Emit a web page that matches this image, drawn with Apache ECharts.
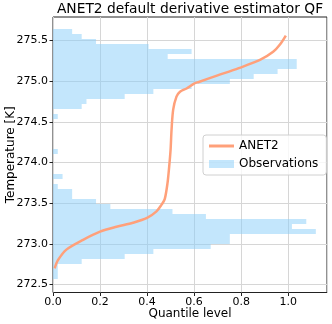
<!DOCTYPE html>
<html>
<head>
<meta charset="utf-8">
<script src="https://cdn.jsdelivr.net/npm/echarts@6/dist/echarts.min.js"></script>
<style>
  html, body { margin: 0; padding: 0; background: #fff; }
  #chart { width: 332px; height: 324px; }
</style>
</head>
<body>
<div id="chart"></div>
<script>
  // histogram of observations: 50 bins, counts listed from the lowest bin upwards
  const binStart = 272.565
  const binWidth = 0.0616
  const obsCounts = [1, 1, 1, 6, 15, 21, 33, 37, 37, 55, 50, 53, 32, 25, 12, 9, 4, 4, 1, 0,
    2, 0, 0, 0, 0, 1, 0, 0, 0, 0, 0, 0, 1, 0, 6, 7, 15, 21, 29, 37,
    42, 47, 51, 51, 24, 29, 20, 9, 6, 4]

  // ANET2 quantile function (quantile level, temperature)
  const qLevels = [0.007, 0.021, 0.057, 0.128, 0.20, 0.27, 0.34, 0.40, 0.44, 0.461, 0.475,
    0.487, 0.494, 0.50, 0.504, 0.511, 0.525, 0.54, 0.568, 0.60, 0.62, 0.70, 0.79, 0.88,
    0.936, 0.965, 0.99]
  const qTemps = [272.70, 272.80, 272.93, 273.05, 273.15, 273.21, 273.26, 273.32, 273.40,
    273.48, 273.55, 273.75, 273.95, 274.16, 274.40, 274.65, 274.81, 274.87, 274.91, 274.97,
    274.99, 275.07, 275.16, 275.26, 275.36, 275.45, 275.56]

  const yTicks = [272.5, 273.0, 273.5, 274.0, 274.5, 275.0, 275.5]

  const total = obsCounts.reduce((a, b) => a + b, 0)
  const histData = obsCounts.map((c, i) => [
    binStart + i * binWidth,
    binStart + (i + 1) * binWidth,
    c / (total * binWidth)
  ])
  const lineData = qLevels.map((q, i) => [q, qTemps[i]])

  const font = 'DejaVu Sans'
  const barColor = 'rgba(135,206,250,0.5)'
  const option = {
    animation: false,
    // title centred over the plot area, not the whole canvas
    graphic: [{
      type: 'text', x: 190, y: 2,
      style: {
        text: 'ANET2 default derivative estimator QF',
        font: '13.8px "DejaVu Sans"', fill: '#000',
        textAlign: 'center', textVerticalAlign: 'top'
      }
    }],
    legend: {
      orient: 'vertical',
      left: 203, top: 135,
      padding: [5, 8, 5, 6],
      itemGap: 6,
      itemWidth: 25, itemHeight: 8,
      backgroundColor: 'rgba(255,255,255,0.8)',
      borderColor: '#d0d0d0', borderWidth: 1, borderRadius: 3,
      textStyle: { fontFamily: font, fontSize: 12, color: '#000' },
      data: [
        { name: 'ANET2', icon: 'path://M0,0 L25,0 L25,3 L0,3 Z' },
        { name: 'Observations', icon: 'rect' }
      ]
    },
    grid: {
      left: 53, right: 5, top: 17, bottom: 31.5,
      outerBoundsMode: 'none',
      containLabel: false,
      show: true, borderColor: '#222', borderWidth: 1, backgroundColor: '#fff'
    },
    xAxis: {
      type: 'value', min: 0, max: 1.165, interval: 0.2,
      name: 'Quantile level', nameLocation: 'middle', nameGap: 15,
      nameMoveOverlap: false,
      nameTextStyle: { fontFamily: font, fontSize: 12, color: '#000' },
      axisLine: { show: false },
      axisTick: { show: true, length: 3.5, lineStyle: { color: '#222' } },
      axisLabel: {
        fontFamily: font, fontSize: 11, color: '#000', margin: 4,
        showMaxLabel: false,
        formatter: v => v.toFixed(1)
      },
      splitLine: { show: true, lineStyle: { color: '#d6d6d6', width: 1 } }
    },
    yAxis: {
      type: 'value', min: 272.403, max: 275.788,
      name: 'Temperature [K]', nameLocation: 'middle', nameGap: 36, nameRotate: 90,
      nameMoveOverlap: false,
      nameTextStyle: { fontFamily: font, fontSize: 12, color: '#000' },
      axisLine: { show: false },
      axisTick: { show: true, length: 3.5, customValues: yTicks, lineStyle: { color: '#222' } },
      axisLabel: {
        fontFamily: font, fontSize: 11, color: '#000', margin: 5,
        customValues: yTicks,
        formatter: v => v.toFixed(1)
      },
      splitLine: { show: true, lineStyle: { color: '#d6d6d6', width: 1 } }
    },
    series: [
      {
        name: 'Observations',
        type: 'custom',
        itemStyle: { color: barColor },
        encode: { x: 2, y: [0, 1] },
        data: histData,
        renderItem: function (params, api) {
          const lo = api.value(0), hi = api.value(1), w = api.value(2)
          if (w <= 0) return
          const p0 = api.coord([0, hi])
          const p1 = api.coord([w, lo])
          // snap bin edges to whole pixels so neighbouring bins meet without hairlines
          const yTop = Math.round(p0[1]), yBot = Math.round(p1[1])
          return {
            type: 'rect',
            shape: { x: p0[0], y: yTop, width: p1[0] - p0[0], height: yBot - yTop },
            style: { fill: barColor, stroke: null, lineWidth: 0 }
          }
        },
        z: 1
      },
      {
        name: 'ANET2',
        type: 'line',
        data: lineData,
        smooth: 0.3,
        showSymbol: false,
        lineStyle: { color: '#ffa07a', width: 2.5 },
        itemStyle: { color: '#ffa07a' },
        z: 3
      }
    ]
  }

  const chart = echarts.init(document.getElementById('chart'))
  chart.setOption(option)
</script>
</body>
</html>
